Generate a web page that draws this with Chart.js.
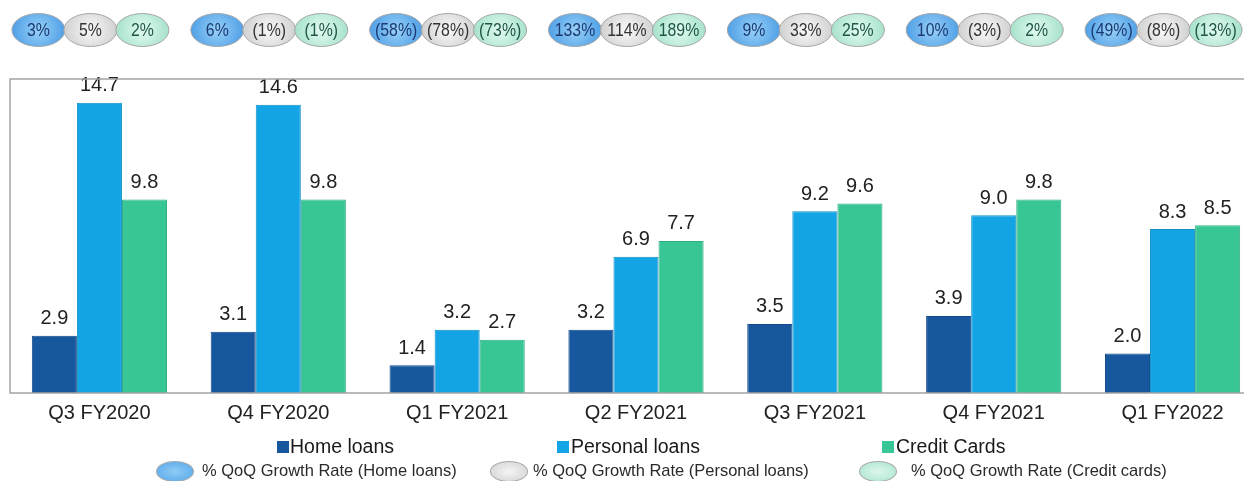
<!DOCTYPE html>
<html>
<head>
<meta charset="utf-8">
<script src="https://cdn.jsdelivr.net/npm/chart.js@4/dist/chart.umd.min.js"></script>
<style>
  body { margin: 0; width: 1244px; height: 481px; overflow: hidden; background: #fff; font-family: "Liberation Sans", Arial, sans-serif; }
  #wrap { position: absolute; left: 0; top: 0; width: 1262px; height: 481px; }
  .lg { position: absolute; white-space: nowrap; color: #1a1a1a; line-height: 1; }
  .row1 { top: 437px; font-size: 19.5px; }
  .row2 { top: 462px; font-size: 17px; color: #2a2a2a; transform: scaleX(0.97); transform-origin: left center; }
  .sq { position: absolute; top: 441px; width: 12px; height: 12px; }
  .ov { position: absolute; top: 461px; width: 36px; height: 19px; border-radius: 50%; border: 1px solid #a8a8a8; }
</style>
</head>
<body>
<div id="wrap"><canvas id="chart" width="1262" height="481"></canvas></div>

<span class="sq" style="left:277px; background:#17579e"></span>
<div class="lg row1" style="left:290px">Home loans</div>
<span class="sq" style="left:557px; background:#12a4e4"></span>
<div class="lg row1" style="left:571px">Personal loans</div>
<span class="sq" style="left:882px; background:#38c794"></span>
<div class="lg row1" style="left:896px">Credit Cards</div>

<span class="ov" style="left:156px; background:radial-gradient(#8ecbf5,#55a6ea)"></span>
<div class="lg row2" style="left:202px">% QoQ Growth Rate (Home loans)</div>
<span class="ov" style="left:490px; background:radial-gradient(#f4f4f4,#d2d2d2)"></span>
<div class="lg row2" style="left:533px">% QoQ Growth Rate (Personal loans)</div>
<span class="ov" style="left:859px; background:radial-gradient(#dcf7ec,#a9e4cc)"></span>
<div class="lg row2" style="left:911px">% QoQ Growth Rate (Credit cards)</div>

<script>
// quarters and loan volumes
const quarters = ["Q3 FY2020", "Q4 FY2020", "Q1 FY2021", "Q2 FY2021", "Q3 FY2021", "Q4 FY2021", "Q1 FY2022"];
const homeLoans = [2.9, 3.1, 1.4, 3.2, 3.5, 3.9, 2.0];
const personalLoans = [14.7, 14.6, 3.2, 6.9, 9.2, 9.0, 8.3];
const creditCards = [9.8, 9.8, 2.7, 7.7, 9.6, 9.8, 8.5];

// quarter on quarter growth, shown in the bubbles above each group
const homeGrowth = ["3%", "6%", "(58%)", "133%", "9%", "10%", "(49%)"];
const personalGrowth = ["5%", "(1%)", "(78%)", "114%", "33%", "(3%)", "(8%)"];
const cardGrowth = ["2%", "(1%)", "(73%)", "189%", "25%", "2%", "(13%)"];

const barColors = ["#17579e", "#12a4e4", "#38c794"];
const barBorders = ["#124a88", "#0f90c8", "#2fae82"];

// value printed on top of every bar
const valueLabels = {
  id: "valueLabels",
  afterDatasetsDraw(chart) {
    const ctx = chart.ctx;
    ctx.save();
    ctx.font = "20px 'Liberation Sans', Arial";
    ctx.fillStyle = "#222";
    ctx.textAlign = "center";
    ctx.textBaseline = "bottom";
    chart.data.datasets.forEach((ds, i) => {
      chart.getDatasetMeta(i).data.forEach((bar, j) => {
        ctx.fillText(ds.data[j].toFixed(1), bar.x, bar.y - 7);
      });
    });
    ctx.restore();
  }
};

// grey frame on the top, left and bottom of the plot
const frame = {
  id: "frame",
  afterDraw(chart) {
    const a = chart.chartArea;
    const ctx = chart.ctx;
    ctx.save();
    ctx.strokeStyle = "#a4a4a4";
    ctx.lineWidth = 1.5;
    ctx.beginPath();
    ctx.moveTo(a.right, a.top);
    ctx.lineTo(a.left, a.top);
    ctx.lineTo(a.left, a.bottom);
    ctx.lineTo(a.right, a.bottom);
    ctx.stroke();
    ctx.restore();
  }
};

// growth bubbles, three per quarter
const bubbles = {
  id: "bubbles",
  afterDraw(chart) {
    const ctx = chart.ctx;
    const xs = chart.scales.x;
    const sets = [
      { vals: homeGrowth, inner: "#92cdf6", outer: "#4f9fe6", text: "#1d3a72" },
      { vals: personalGrowth, inner: "#f6f6f6", outer: "#d0d0d0", text: "#333" },
      { vals: cardGrowth, inner: "#def8ee", outer: "#a6e2ca", text: "#1f5646" }
    ];
    const cy = 30, rx = 26.5, ry = 16.5;
    ctx.save();
    ctx.textAlign = "center";
    ctx.textBaseline = "middle";
    quarters.forEach((q, i) => {
      const cx = xs.getPixelForValue(i) - 9;
      sets.forEach((s, k) => {
        const x = cx + (k - 1) * 52;
        const g = ctx.createRadialGradient(x, cy, 2, x, cy, rx);
        g.addColorStop(0, s.inner);
        g.addColorStop(1, s.outer);
        ctx.beginPath();
        ctx.ellipse(x, cy, rx, ry, 0, 0, Math.PI * 2);
        ctx.fillStyle = g;
        ctx.fill();
        ctx.strokeStyle = "#a6a6a6";
        ctx.lineWidth = 1;
        ctx.stroke();
        // squeezed text inside the bubble
        ctx.save();
        ctx.translate(x, cy + 1);
        ctx.scale(0.88, 1);
        ctx.font = "18px 'Liberation Sans', Arial";
        ctx.fillStyle = s.text;
        ctx.fillText(s.vals[i], 0, 0);
        ctx.restore();
      });
    });
    ctx.restore();
  }
};

new Chart(document.getElementById("chart"), {
  type: "bar",
  data: {
    labels: quarters,
    datasets: [
      { label: "Home loans", data: homeLoans },
      { label: "Personal loans", data: personalLoans },
      { label: "Credit Cards", data: creditCards }
    ].map((d, i) => ({
      ...d,
      backgroundColor: barColors[i],
      borderColor: barBorders[i],
      borderWidth: 1,
      borderSkipped: "bottom"
    }))
  },
  options: {
    responsive: false,
    animation: false,
    layout: { padding: { top: 79, left: 10, right: 0, bottom: 56 } },
    datasets: { bar: { categoryPercentage: 0.756, barPercentage: 1 } },
    plugins: { legend: { display: false }, tooltip: { enabled: false } },
    scales: {
      x: {
        grid: { display: false },
        border: { display: false },
        ticks: { color: "#222", padding: 0, font: { size: 20, family: "'Liberation Sans', Arial" } }
      },
      y: { display: false, min: 0, max: 15.9 }
    }
  },
  plugins: [valueLabels, frame, bubbles]
});
</script>
</body>
</html>
